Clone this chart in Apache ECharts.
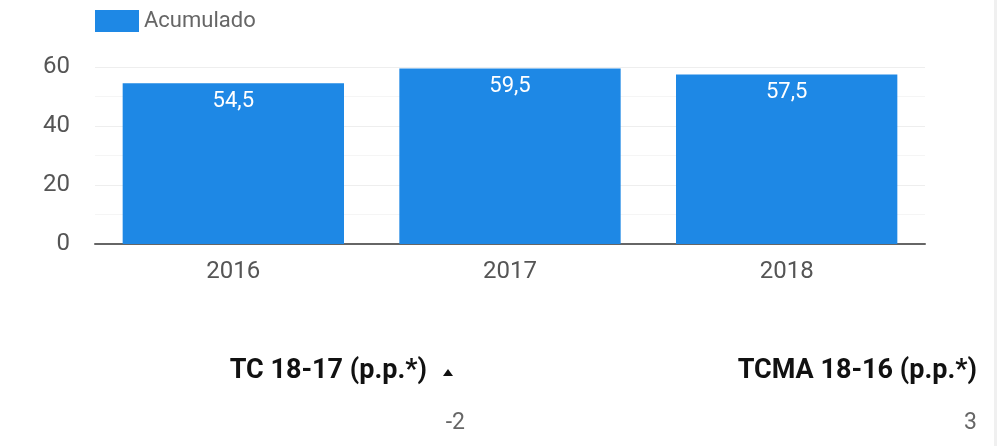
<!DOCTYPE html>
<html>
<head>
<meta charset="utf-8">
<script src="https://cdn.jsdelivr.net/npm/echarts@6/dist/echarts.min.js"></script>
<style>
  html, body { margin: 0; padding: 0; background: #fff; }
  #main { width: 997px; height: 446px; }
</style>
</head>
<body>
<div id="main"></div>
<script>
const years = ['2016', '2017', '2018']
const acumulado = [54.5, 59.5, 57.5]
const yTicks = [0, 20, 40, 60]
const kpiTitles = ['TC 18-17 (p.p.*)', 'TCMA 18-16 (p.p.*)']
const kpiValues = ['-2', '3']

const fmt = v => String(v).replace('.', ',')

const myChart = echarts.init(document.getElementById('main'))
const option = {
  animation: false,
  textStyle: { fontFamily: 'Roboto' },
  legend: {
    left: 95,
    top: 10,
    padding: 0,
    itemWidth: 44,
    itemHeight: 22,
    itemGap: 8,
    icon: 'rect',
    textStyle: { color: '#666', fontSize: 22, fontFamily: 'Roboto' },
    data: ['Acumulado']
  },
  grid: {
    left: 95,
    right: 72,
    top: 67,
    height: 177
  },
  xAxis: {
    type: 'category',
    data: years,
    axisTick: { show: false },
    axisLine: { lineStyle: { color: '#666', width: 2 } },
    axisLabel: { color: '#555', fontSize: 24, margin: 16 }
  },
  yAxis: {
    type: 'value',
    min: yTicks[0],
    max: yTicks[yTicks.length - 1],
    interval: 20,
    axisLine: { show: false },
    axisTick: { show: false },
    axisLabel: { color: '#555', fontSize: 24, margin: 25 },
    splitLine: { lineStyle: { color: '#eeeeee', width: 1 } },
    minorTick: { show: false, splitNumber: 2 },
    minorSplitLine: { show: true, lineStyle: { color: '#f5f5f5', width: 1 } }
  },
  series: [
    {
      name: 'Acumulado',
      type: 'bar',
      data: acumulado,
      barCategoryGap: '20%',
      itemStyle: { color: '#1e88e5' },
      label: {
        show: true,
        position: 'insideTop',
        distance: 7,
        color: '#fff',
        fontSize: 22,
        formatter: p => fmt(p.value)
      }
    }
  ],
  graphic: [
    {
      type: 'text', right: 570, top: 358,
      style: { text: kpiTitles[0], fill: '#111', font: 'bold 27px Roboto' }
    },
    {
      type: 'polygon', left: 443, top: 369,
      shape: { points: [[5, 0], [10, 7], [0, 7]] },
      style: { fill: '#111' }
    },
    {
      type: 'text', right: 532, top: 412,
      style: { text: kpiValues[0], fill: '#666', font: '23px Roboto' }
    },
    {
      type: 'text', right: 20, top: 358,
      style: { text: kpiTitles[1], fill: '#111', font: 'bold 27px Roboto' }
    },
    {
      type: 'text', right: 20, top: 412,
      style: { text: kpiValues[1], fill: '#666', font: '23px Roboto' }
    },
    {
      type: 'rect', right: 0, top: 0,
      shape: { width: 3, height: 446 },
      style: { fill: '#f0f0f0' }
    }
  ]
}
myChart.setOption(option)
</script>
</body>
</html>
